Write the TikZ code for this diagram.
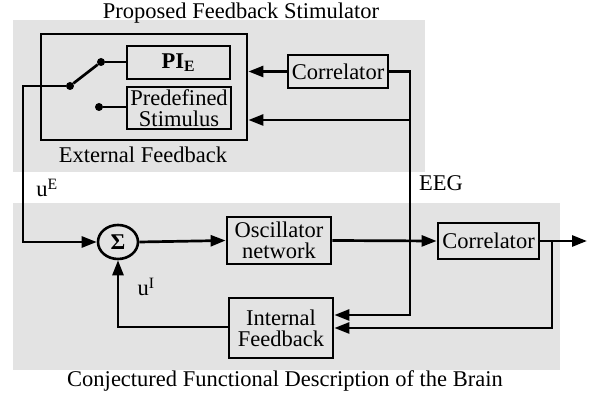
\documentclass[tikz,border=0pt]{standalone}
\usepackage{fontspec}
\setmainfont{Liberation Serif}
\usetikzlibrary{arrows.meta,shapes.geometric}
\begin{document}
\begin{tikzpicture}[x=1pt,y=-1pt,
  font=\fontsize{22.5}{24}\selectfont,
  wire/.style={line width=2.7pt},
  arr/.style={wire,-{Triangle[length=15pt,width=11pt]}},
  blk/.style={draw,line width=2.8pt,rectangle,align=center,inner sep=0pt},
  dot/.style={circle,fill,inner sep=0pt,minimum size=8pt},
  panel/.style={fill=black!11,draw=none}]
\useasboundingbox (0,0) rectangle (590,395);
% shaded panels
\fill[panel] (13,20) rectangle (425,172);
\fill[panel] (13,203) rectangle (560,370);
\node (ttop) at (241,13) {Proposed Feedback Stimulator};
\node (tbot) at (285,381) {Conjectured Functional Description of the Brain};

% stimulator blocks
\node[blk,minimum width=206pt,minimum height=106pt] (ext) at (144,87) {};
\node (extlbl) at (143,155) {External Feedback};
\node[blk,minimum width=103pt,minimum height=33pt] (pi) at (178.5,62.5) {\textbf{PI}\textsubscript{\textbf{E}}};
\node[blk,minimum width=104pt,minimum height=42pt] (pre) at (179,108) {Predefined\\[-3pt]Stimulus};
\node[blk,minimum width=100pt,minimum height=33pt] (tc) at (338,71.5) {Correlator};

% switch
\node[dot] (sa) at (101,62) {};
\node[dot] (sp) at (70,86) {};
\node[dot] (sb) at (99,107) {};
\draw[wire] (sa) -- (pi.west |- sa);
\draw[wire] (sb) -- (pre.west |- sb);
\draw[wire] (sp) -- (sa);

% brain blocks
\node[draw,ellipse,line width=2.6pt,minimum width=40pt,minimum height=34pt,inner sep=0pt] (sum) at (118,242) {\textbf{Σ}};
\node[blk,minimum width=104pt,minimum height=47pt] (osc) at (279,240.5) {Oscillator\\[-3pt]network};
\node[blk,minimum width=101pt,minimum height=36pt] (bc) at (488.5,241) {Correlator};
\node[blk,minimum width=104pt,minimum height=60pt] (int) at (281,328) {Internal\\[-3pt]Feedback};

\coordinate (ue) at (23,86);
\coordinate (bus) at (410,0);
\coordinate (ret) at (552,0);
\coordinate (out) at (587,241);

% external stimulus path into the summation
\draw[arr] (sp) -- (ue) -- (ue |- sum.west) -- (sum.west);
\node (uE) at (47,188) {u\textsuperscript{E}};
% forward path
\draw[arr] (sum.east) -- (osc.west);
\draw[arr] (osc.east) -- (bc.west);
\draw[arr] (bc.east) -- (out);
% internal feedback
\draw[arr] (int.west |- 0,327) -- (sum.south |- 0,327) -- (sum.south);
\node (uI) at (146,287) {u\textsuperscript{I}};
\draw[arr] (bc.east -| ret) -- (ret |- 0,328) -- (int.east |- 0,328);
% EEG bus
\draw[arr] (tc.east) -- (tc.east -| bus) -- (bus |- 0,315) -- (int.east |- 0,315);
\draw[arr] (bus |- 0,120) -- (ext.east |- 0,120);
\draw[arr] (tc.west) -- (tc.west -| ext.east);
\node (eeg) at (441,183) {EEG};
\end{tikzpicture}
\end{document}
